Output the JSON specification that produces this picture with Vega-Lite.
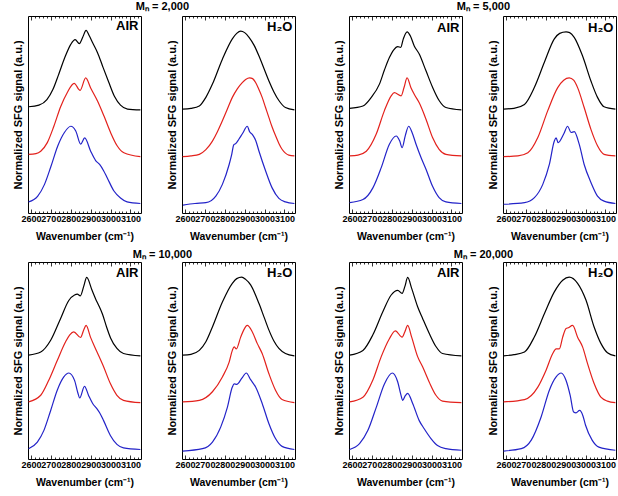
{
"$schema":"https://vega.github.io/schema/vega-lite/v6.json",
"padding":{"left":11,"top":1,"right":0,"bottom":0},
"background":"#ffffff",
"config":{
 "font":"Liberation Sans",
 "view":{"stroke":"#000000","strokeWidth":1},
 "axis":{"domain":false,"grid":false,"labelFont":"Liberation Sans","labelFontWeight":"bold","labelFontSize":9,"labelColor":"#000","labelPadding":5,"labelOverlap":false,"labelFlush":false,"labelBound":false,"tickColor":"#000","tickWidth":0.8,"titleFont":"Liberation Sans","titleFontSize":11,"titleFontWeight":"bold","titleColor":"#000"},
 "axisX":{"titlePadding":6,"titleFontSize":10.5},
 "axisY":{"titlePadding":5},
 "text":{"font":"Liberation Sans","fontWeight":"bold","fontSize":13,"color":"#000"},
 "title":{"font":"Liberation Sans","color":"#000","fontWeight":"bold","fontSize":11}
},
"datasets":{"d":[
{"p":1,"s":"k","x":2588,"y":1.23},{"p":1,"s":"k","x":2640,"y":1.25},{"p":1,"s":"k","x":2680,"y":1.32},{"p":1,"s":"k","x":2710,"y":1.45},{"p":1,"s":"k","x":2740,"y":1.65},{"p":1,"s":"k","x":2770,"y":1.86},{"p":1,"s":"k","x":2800,"y":2.03},{"p":1,"s":"k","x":2822,"y":2.09},{"p":1,"s":"k","x":2843,"y":2.04},{"p":1,"s":"k","x":2860,"y":2.12},{"p":1,"s":"k","x":2877,"y":2.21},{"p":1,"s":"k","x":2893,"y":2.14},{"p":1,"s":"k","x":2910,"y":2.05},{"p":1,"s":"k","x":2935,"y":1.92},{"p":1,"s":"k","x":2960,"y":1.75},{"p":1,"s":"k","x":2990,"y":1.55},{"p":1,"s":"k","x":3020,"y":1.36},{"p":1,"s":"k","x":3050,"y":1.25},{"p":1,"s":"k","x":3085,"y":1.20},{"p":1,"s":"k","x":3150,"y":1.19},
{"p":1,"s":"r","x":2588,"y":0.62},{"p":1,"s":"r","x":2625,"y":0.63},{"p":1,"s":"r","x":2649,"y":0.66},{"p":1,"s":"r","x":2682,"y":0.77},{"p":1,"s":"r","x":2715,"y":0.98},{"p":1,"s":"r","x":2749,"y":1.23},{"p":1,"s":"r","x":2782,"y":1.41},{"p":1,"s":"r","x":2817,"y":1.53},{"p":1,"s":"r","x":2847,"y":1.44},{"p":1,"s":"r","x":2875,"y":1.60},{"p":1,"s":"r","x":2900,"y":1.47},{"p":1,"s":"r","x":2935,"y":1.30},{"p":1,"s":"r","x":2967,"y":1.11},{"p":1,"s":"r","x":3000,"y":0.90},{"p":1,"s":"r","x":3033,"y":0.73},{"p":1,"s":"r","x":3067,"y":0.64},{"p":1,"s":"r","x":3150,"y":0.59},
{"p":1,"s":"b","x":2588,"y":0.01},{"p":1,"s":"b","x":2634,"y":0.085},{"p":1,"s":"b","x":2668,"y":0.235},{"p":1,"s":"b","x":2701,"y":0.47},{"p":1,"s":"b","x":2735,"y":0.73},{"p":1,"s":"b","x":2768,"y":0.90},{"p":1,"s":"b","x":2800,"y":0.98},{"p":1,"s":"b","x":2825,"y":0.92},{"p":1,"s":"b","x":2850,"y":0.75},{"p":1,"s":"b","x":2870,"y":0.83},{"p":1,"s":"b","x":2900,"y":0.66},{"p":1,"s":"b","x":2925,"y":0.54},{"p":1,"s":"b","x":2945,"y":0.49},{"p":1,"s":"b","x":2965,"y":0.41},{"p":1,"s":"b","x":2983,"y":0.32},{"p":1,"s":"b","x":3017,"y":0.15},{"p":1,"s":"b","x":3050,"y":0.06},{"p":1,"s":"b","x":3083,"y":0.01},{"p":1,"s":"b","x":3150,"y":-0.01},
{"p":2,"s":"k","x":2588,"y":1.20},{"p":2,"s":"k","x":2630,"y":1.21},{"p":2,"s":"k","x":2672,"y":1.24},{"p":2,"s":"k","x":2705,"y":1.35},{"p":2,"s":"k","x":2738,"y":1.52},{"p":2,"s":"k","x":2788,"y":1.84},{"p":2,"s":"k","x":2838,"y":2.10},{"p":2,"s":"k","x":2860,"y":2.17},{"p":2,"s":"k","x":2880,"y":2.20},{"p":2,"s":"k","x":2900,"y":2.18},{"p":2,"s":"k","x":2922,"y":2.12},{"p":2,"s":"k","x":2947,"y":2.02},{"p":2,"s":"k","x":2972,"y":1.88},{"p":2,"s":"k","x":2997,"y":1.72},{"p":2,"s":"k","x":3022,"y":1.56},{"p":2,"s":"k","x":3047,"y":1.42},{"p":2,"s":"k","x":3072,"y":1.31},{"p":2,"s":"k","x":3105,"y":1.22},{"p":2,"s":"k","x":3150,"y":1.19},
{"p":2,"s":"r","x":2588,"y":0.59},{"p":2,"s":"r","x":2630,"y":0.60},{"p":2,"s":"r","x":2672,"y":0.62},{"p":2,"s":"r","x":2705,"y":0.68},{"p":2,"s":"r","x":2738,"y":0.79},{"p":2,"s":"r","x":2763,"y":0.91},{"p":2,"s":"r","x":2788,"y":1.05},{"p":2,"s":"r","x":2813,"y":1.20},{"p":2,"s":"r","x":2838,"y":1.35},{"p":2,"s":"r","x":2863,"y":1.46},{"p":2,"s":"r","x":2888,"y":1.54},{"p":2,"s":"r","x":2905,"y":1.58},{"p":2,"s":"r","x":2925,"y":1.60},{"p":2,"s":"r","x":2940,"y":1.59},{"p":2,"s":"r","x":2955,"y":1.54},{"p":2,"s":"r","x":2970,"y":1.46},{"p":2,"s":"r","x":2988,"y":1.35},{"p":2,"s":"r","x":3005,"y":1.22},{"p":2,"s":"r","x":3022,"y":1.09},{"p":2,"s":"r","x":3038,"y":0.97},{"p":2,"s":"r","x":3055,"y":0.86},{"p":2,"s":"r","x":3072,"y":0.76},{"p":2,"s":"r","x":3088,"y":0.685},{"p":2,"s":"r","x":3105,"y":0.635},{"p":2,"s":"r","x":3122,"y":0.61},{"p":2,"s":"r","x":3150,"y":0.60},
{"p":2,"s":"b","x":2590,"y":-0.03},{"p":2,"s":"b","x":2650,"y":-0.01},{"p":2,"s":"b","x":2705,"y":0.0},{"p":2,"s":"b","x":2755,"y":0.085},{"p":2,"s":"b","x":2788,"y":0.235},{"p":2,"s":"b","x":2822,"y":0.49},{"p":2,"s":"b","x":2835,"y":0.62},{"p":2,"s":"b","x":2845,"y":0.74},{"p":2,"s":"b","x":2856,"y":0.76},{"p":2,"s":"b","x":2870,"y":0.81},{"p":2,"s":"b","x":2890,"y":0.89},{"p":2,"s":"b","x":2913,"y":0.98},{"p":2,"s":"b","x":2925,"y":0.91},{"p":2,"s":"b","x":2940,"y":0.87},{"p":2,"s":"b","x":2955,"y":0.80},{"p":2,"s":"b","x":2972,"y":0.66},{"p":2,"s":"b","x":3005,"y":0.41},{"p":2,"s":"b","x":3038,"y":0.19},{"p":2,"s":"b","x":3072,"y":0.055},{"p":2,"s":"b","x":3105,"y":0.01},{"p":2,"s":"b","x":3150,"y":-0.01},
{"p":3,"s":"k","x":2588,"y":1.21},{"p":3,"s":"k","x":2655,"y":1.24},{"p":3,"s":"k","x":2697,"y":1.35},{"p":3,"s":"k","x":2738,"y":1.52},{"p":3,"s":"k","x":2763,"y":1.70},{"p":3,"s":"k","x":2788,"y":1.86},{"p":3,"s":"k","x":2810,"y":1.96},{"p":3,"s":"k","x":2830,"y":2.00},{"p":3,"s":"k","x":2845,"y":1.99},{"p":3,"s":"k","x":2858,"y":2.10},{"p":3,"s":"k","x":2877,"y":2.19},{"p":3,"s":"k","x":2893,"y":2.14},{"p":3,"s":"k","x":2913,"y":2.01},{"p":3,"s":"k","x":2938,"y":1.905},{"p":3,"s":"k","x":2972,"y":1.69},{"p":3,"s":"k","x":3005,"y":1.48},{"p":3,"s":"k","x":3038,"y":1.31},{"p":3,"s":"k","x":3072,"y":1.22},{"p":3,"s":"k","x":3150,"y":1.19},
{"p":3,"s":"r","x":2588,"y":0.60},{"p":3,"s":"r","x":2630,"y":0.61},{"p":3,"s":"r","x":2672,"y":0.66},{"p":3,"s":"r","x":2722,"y":0.88},{"p":3,"s":"r","x":2763,"y":1.18},{"p":3,"s":"r","x":2797,"y":1.37},{"p":3,"s":"r","x":2813,"y":1.41},{"p":3,"s":"r","x":2847,"y":1.37},{"p":3,"s":"r","x":2862,"y":1.48},{"p":3,"s":"r","x":2877,"y":1.60},{"p":3,"s":"r","x":2897,"y":1.47},{"p":3,"s":"r","x":2915,"y":1.38},{"p":3,"s":"r","x":2938,"y":1.28},{"p":3,"s":"r","x":2972,"y":1.07},{"p":3,"s":"r","x":3005,"y":0.835},{"p":3,"s":"r","x":3038,"y":0.685},{"p":3,"s":"r","x":3072,"y":0.62},{"p":3,"s":"r","x":3150,"y":0.60},
{"p":3,"s":"b","x":2588,"y":0.0},{"p":3,"s":"b","x":2655,"y":0.04},{"p":3,"s":"b","x":2705,"y":0.19},{"p":3,"s":"b","x":2747,"y":0.45},{"p":3,"s":"b","x":2788,"y":0.75},{"p":3,"s":"b","x":2822,"y":0.855},{"p":3,"s":"b","x":2840,"y":0.79},{"p":3,"s":"b","x":2852,"y":0.705},{"p":3,"s":"b","x":2868,"y":0.86},{"p":3,"s":"b","x":2885,"y":0.98},{"p":3,"s":"b","x":2902,"y":0.90},{"p":3,"s":"b","x":2922,"y":0.75},{"p":3,"s":"b","x":2947,"y":0.58},{"p":3,"s":"b","x":2972,"y":0.43},{"p":3,"s":"b","x":3005,"y":0.21},{"p":3,"s":"b","x":3038,"y":0.065},{"p":3,"s":"b","x":3072,"y":0.01},{"p":3,"s":"b","x":3150,"y":-0.01},
{"p":4,"s":"k","x":2588,"y":1.20},{"p":4,"s":"k","x":2640,"y":1.21},{"p":4,"s":"k","x":2693,"y":1.26},{"p":4,"s":"k","x":2743,"y":1.48},{"p":4,"s":"k","x":2793,"y":1.80},{"p":4,"s":"k","x":2843,"y":2.10},{"p":4,"s":"k","x":2870,"y":2.17},{"p":4,"s":"k","x":2902,"y":2.19},{"p":4,"s":"k","x":2920,"y":2.18},{"p":4,"s":"k","x":2943,"y":2.12},{"p":4,"s":"k","x":2985,"y":1.88},{"p":4,"s":"k","x":3027,"y":1.56},{"p":4,"s":"k","x":3060,"y":1.35},{"p":4,"s":"k","x":3093,"y":1.23},{"p":4,"s":"k","x":3150,"y":1.20},
{"p":4,"s":"r","x":2588,"y":0.59},{"p":4,"s":"r","x":2660,"y":0.60},{"p":4,"s":"r","x":2710,"y":0.64},{"p":4,"s":"r","x":2760,"y":0.835},{"p":4,"s":"r","x":2810,"y":1.18},{"p":4,"s":"r","x":2860,"y":1.475},{"p":4,"s":"r","x":2890,"y":1.57},{"p":4,"s":"r","x":2918,"y":1.60},{"p":4,"s":"r","x":2940,"y":1.57},{"p":4,"s":"r","x":2960,"y":1.475},{"p":4,"s":"r","x":2993,"y":1.22},{"p":4,"s":"r","x":3027,"y":0.94},{"p":4,"s":"r","x":3060,"y":0.73},{"p":4,"s":"r","x":3093,"y":0.62},{"p":4,"s":"r","x":3150,"y":0.60},
{"p":4,"s":"b","x":2588,"y":-0.02},{"p":4,"s":"b","x":2693,"y":0.0},{"p":4,"s":"b","x":2743,"y":0.065},{"p":4,"s":"b","x":2785,"y":0.235},{"p":4,"s":"b","x":2818,"y":0.49},{"p":4,"s":"b","x":2843,"y":0.79},{"p":4,"s":"b","x":2852,"y":0.83},{"p":4,"s":"b","x":2862,"y":0.77},{"p":4,"s":"b","x":2890,"y":0.88},{"p":4,"s":"b","x":2910,"y":0.98},{"p":4,"s":"b","x":2927,"y":0.90},{"p":4,"s":"b","x":2943,"y":0.91},{"p":4,"s":"b","x":2968,"y":0.75},{"p":4,"s":"b","x":2993,"y":0.49},{"p":4,"s":"b","x":3027,"y":0.26},{"p":4,"s":"b","x":3060,"y":0.085},{"p":4,"s":"b","x":3093,"y":0.02},{"p":4,"s":"b","x":3150,"y":-0.01},
{"p":5,"s":"k","x":2588,"y":1.20},{"p":5,"s":"k","x":2649,"y":1.24},{"p":5,"s":"k","x":2699,"y":1.39},{"p":5,"s":"k","x":2749,"y":1.67},{"p":5,"s":"k","x":2790,"y":1.90},{"p":5,"s":"k","x":2819,"y":1.97},{"p":5,"s":"k","x":2833,"y":1.98},{"p":5,"s":"k","x":2848,"y":1.96},{"p":5,"s":"k","x":2865,"y":2.08},{"p":5,"s":"k","x":2880,"y":2.195},{"p":5,"s":"k","x":2907,"y":2.03},{"p":5,"s":"k","x":2925,"y":1.92},{"p":5,"s":"k","x":2940,"y":1.84},{"p":5,"s":"k","x":2960,"y":1.72},{"p":5,"s":"k","x":2980,"y":1.56},{"p":5,"s":"k","x":3000,"y":1.42},{"p":5,"s":"k","x":3032,"y":1.285},{"p":5,"s":"k","x":3065,"y":1.22},{"p":5,"s":"k","x":3150,"y":1.19},
{"p":5,"s":"r","x":2588,"y":0.60},{"p":5,"s":"r","x":2649,"y":0.685},{"p":5,"s":"r","x":2690,"y":0.88},{"p":5,"s":"r","x":2732,"y":1.13},{"p":5,"s":"r","x":2774,"y":1.37},{"p":5,"s":"r","x":2795,"y":1.46},{"p":5,"s":"r","x":2815,"y":1.497},{"p":5,"s":"r","x":2849,"y":1.425},{"p":5,"s":"r","x":2865,"y":1.52},{"p":5,"s":"r","x":2877,"y":1.58},{"p":5,"s":"r","x":2899,"y":1.43},{"p":5,"s":"r","x":2932,"y":1.24},{"p":5,"s":"r","x":2965,"y":1.05},{"p":5,"s":"r","x":2999,"y":0.835},{"p":5,"s":"r","x":3032,"y":0.685},{"p":5,"s":"r","x":3065,"y":0.62},{"p":5,"s":"r","x":3150,"y":0.59},
{"p":5,"s":"b","x":2588,"y":0.0},{"p":5,"s":"b","x":2632,"y":0.085},{"p":5,"s":"b","x":2665,"y":0.235},{"p":5,"s":"b","x":2699,"y":0.49},{"p":5,"s":"b","x":2732,"y":0.75},{"p":5,"s":"b","x":2765,"y":0.92},{"p":5,"s":"b","x":2790,"y":0.97},{"p":5,"s":"b","x":2819,"y":0.876},{"p":5,"s":"b","x":2835,"y":0.72},{"p":5,"s":"b","x":2845,"y":0.65},{"p":5,"s":"b","x":2869,"y":0.80},{"p":5,"s":"b","x":2890,"y":0.68},{"p":5,"s":"b","x":2910,"y":0.58},{"p":5,"s":"b","x":2932,"y":0.51},{"p":5,"s":"b","x":2945,"y":0.46},{"p":5,"s":"b","x":2965,"y":0.36},{"p":5,"s":"b","x":2999,"y":0.17},{"p":5,"s":"b","x":3032,"y":0.055},{"p":5,"s":"b","x":3065,"y":0.01},{"p":5,"s":"b","x":3150,"y":-0.01},
{"p":6,"s":"k","x":2588,"y":1.20},{"p":6,"s":"k","x":2630,"y":1.21},{"p":6,"s":"k","x":2672,"y":1.26},{"p":6,"s":"k","x":2705,"y":1.37},{"p":6,"s":"k","x":2738,"y":1.56},{"p":6,"s":"k","x":2788,"y":1.88},{"p":6,"s":"k","x":2838,"y":2.12},{"p":6,"s":"k","x":2860,"y":2.18},{"p":6,"s":"k","x":2885,"y":2.20},{"p":6,"s":"k","x":2905,"y":2.17},{"p":6,"s":"k","x":2930,"y":2.10},{"p":6,"s":"k","x":2972,"y":1.86},{"p":6,"s":"k","x":2997,"y":1.69},{"p":6,"s":"k","x":3022,"y":1.52},{"p":6,"s":"k","x":3047,"y":1.38},{"p":6,"s":"k","x":3072,"y":1.285},{"p":6,"s":"k","x":3105,"y":1.22},{"p":6,"s":"k","x":3150,"y":1.19},
{"p":6,"s":"r","x":2588,"y":0.60},{"p":6,"s":"r","x":2672,"y":0.62},{"p":6,"s":"r","x":2738,"y":0.73},{"p":6,"s":"r","x":2788,"y":0.92},{"p":6,"s":"r","x":2822,"y":1.11},{"p":6,"s":"r","x":2838,"y":1.26},{"p":6,"s":"r","x":2847,"y":1.305},{"p":6,"s":"r","x":2858,"y":1.28},{"p":6,"s":"r","x":2880,"y":1.43},{"p":6,"s":"r","x":2895,"y":1.52},{"p":6,"s":"r","x":2913,"y":1.58},{"p":6,"s":"r","x":2938,"y":1.50},{"p":6,"s":"r","x":2963,"y":1.35},{"p":6,"s":"r","x":2988,"y":1.22},{"p":6,"s":"r","x":3022,"y":0.96},{"p":6,"s":"r","x":3055,"y":0.75},{"p":6,"s":"r","x":3088,"y":0.63},{"p":6,"s":"r","x":3150,"y":0.59},
{"p":6,"s":"b","x":2588,"y":-0.03},{"p":6,"s":"b","x":2688,"y":0.0},{"p":6,"s":"b","x":2738,"y":0.085},{"p":6,"s":"b","x":2780,"y":0.28},{"p":6,"s":"b","x":2813,"y":0.53},{"p":6,"s":"b","x":2838,"y":0.79},{"p":6,"s":"b","x":2847,"y":0.83},{"p":6,"s":"b","x":2860,"y":0.825},{"p":6,"s":"b","x":2885,"y":0.90},{"p":6,"s":"b","x":2908,"y":0.97},{"p":6,"s":"b","x":2930,"y":0.885},{"p":6,"s":"b","x":2955,"y":0.79},{"p":6,"s":"b","x":2988,"y":0.58},{"p":6,"s":"b","x":3022,"y":0.32},{"p":6,"s":"b","x":3055,"y":0.13},{"p":6,"s":"b","x":3088,"y":0.03},{"p":6,"s":"b","x":3150,"y":-0.01},
{"p":7,"s":"k","x":2588,"y":1.20},{"p":7,"s":"k","x":2655,"y":1.26},{"p":7,"s":"k","x":2705,"y":1.46},{"p":7,"s":"k","x":2755,"y":1.755},{"p":7,"s":"k","x":2797,"y":1.97},{"p":7,"s":"k","x":2830,"y":2.03},{"p":7,"s":"k","x":2852,"y":1.99},{"p":7,"s":"k","x":2866,"y":2.08},{"p":7,"s":"k","x":2880,"y":2.195},{"p":7,"s":"k","x":2900,"y":2.055},{"p":7,"s":"k","x":2930,"y":1.82},{"p":7,"s":"k","x":2955,"y":1.67},{"p":7,"s":"k","x":2988,"y":1.48},{"p":7,"s":"k","x":3022,"y":1.31},{"p":7,"s":"k","x":3055,"y":1.22},{"p":7,"s":"k","x":3150,"y":1.19},
{"p":7,"s":"r","x":2588,"y":0.60},{"p":7,"s":"r","x":2655,"y":0.66},{"p":7,"s":"r","x":2705,"y":0.88},{"p":7,"s":"r","x":2747,"y":1.18},{"p":7,"s":"r","x":2788,"y":1.41},{"p":7,"s":"r","x":2818,"y":1.51},{"p":7,"s":"r","x":2852,"y":1.43},{"p":7,"s":"r","x":2866,"y":1.50},{"p":7,"s":"r","x":2880,"y":1.58},{"p":7,"s":"r","x":2900,"y":1.43},{"p":7,"s":"r","x":2930,"y":1.18},{"p":7,"s":"r","x":2955,"y":1.05},{"p":7,"s":"r","x":2988,"y":0.856},{"p":7,"s":"r","x":3022,"y":0.685},{"p":7,"s":"r","x":3055,"y":0.61},{"p":7,"s":"r","x":3150,"y":0.59},
{"p":7,"s":"b","x":2588,"y":-0.01},{"p":7,"s":"b","x":2638,"y":0.065},{"p":7,"s":"b","x":2680,"y":0.235},{"p":7,"s":"b","x":2722,"y":0.53},{"p":7,"s":"b","x":2763,"y":0.83},{"p":7,"s":"b","x":2802,"y":0.97},{"p":7,"s":"b","x":2830,"y":0.855},{"p":7,"s":"b","x":2845,"y":0.70},{"p":7,"s":"b","x":2855,"y":0.62},{"p":7,"s":"b","x":2868,"y":0.68},{"p":7,"s":"b","x":2880,"y":0.71},{"p":7,"s":"b","x":2905,"y":0.58},{"p":7,"s":"b","x":2938,"y":0.36},{"p":7,"s":"b","x":2963,"y":0.256},{"p":7,"s":"b","x":2997,"y":0.13},{"p":7,"s":"b","x":3030,"y":0.04},{"p":7,"s":"b","x":3072,"y":0.0},{"p":7,"s":"b","x":3150,"y":-0.02},
{"p":8,"s":"k","x":2588,"y":1.19},{"p":8,"s":"k","x":2640,"y":1.205},{"p":8,"s":"k","x":2693,"y":1.24},{"p":8,"s":"k","x":2743,"y":1.435},{"p":8,"s":"k","x":2793,"y":1.73},{"p":8,"s":"k","x":2843,"y":2.01},{"p":8,"s":"k","x":2885,"y":2.16},{"p":8,"s":"k","x":2918,"y":2.20},{"p":8,"s":"k","x":2960,"y":2.12},{"p":8,"s":"k","x":3002,"y":1.905},{"p":8,"s":"k","x":3043,"y":1.56},{"p":8,"s":"k","x":3077,"y":1.35},{"p":8,"s":"k","x":3110,"y":1.23},{"p":8,"s":"k","x":3150,"y":1.19},
{"p":8,"s":"r","x":2588,"y":0.60},{"p":8,"s":"r","x":2693,"y":0.63},{"p":8,"s":"r","x":2760,"y":0.79},{"p":8,"s":"r","x":2802,"y":1.01},{"p":8,"s":"r","x":2835,"y":1.22},{"p":8,"s":"r","x":2852,"y":1.28},{"p":8,"s":"r","x":2868,"y":1.28},{"p":8,"s":"r","x":2885,"y":1.43},{"p":8,"s":"r","x":2902,"y":1.54},{"p":8,"s":"r","x":2913,"y":1.55},{"p":8,"s":"r","x":2935,"y":1.58},{"p":8,"s":"r","x":2960,"y":1.43},{"p":8,"s":"r","x":2985,"y":1.305},{"p":8,"s":"r","x":3010,"y":1.09},{"p":8,"s":"r","x":3043,"y":0.835},{"p":8,"s":"r","x":3077,"y":0.66},{"p":8,"s":"r","x":3110,"y":0.61},{"p":8,"s":"r","x":3150,"y":0.59},
{"p":8,"s":"b","x":2588,"y":-0.03},{"p":8,"s":"b","x":2677,"y":0.0},{"p":8,"s":"b","x":2727,"y":0.11},{"p":8,"s":"b","x":2777,"y":0.41},{"p":8,"s":"b","x":2818,"y":0.75},{"p":8,"s":"b","x":2852,"y":0.92},{"p":8,"s":"b","x":2877,"y":0.97},{"p":8,"s":"b","x":2902,"y":0.875},{"p":8,"s":"b","x":2923,"y":0.68},{"p":8,"s":"b","x":2940,"y":0.47},{"p":8,"s":"b","x":2952,"y":0.46},{"p":8,"s":"b","x":2970,"y":0.49},{"p":8,"s":"b","x":2987,"y":0.42},{"p":8,"s":"b","x":3000,"y":0.30},{"p":8,"s":"b","x":3033,"y":0.11},{"p":8,"s":"b","x":3067,"y":0.02},{"p":8,"s":"b","x":3150,"y":-0.02}
]},
"data":{"name":"d"},
"vconcat":[
 {"hconcat":[
  {"title":{"text":"Mₙ = 2,000","anchor":"middle","offset":3,"dx":8},"spacing":21,"hconcat":[
   {"width":113,"height":197,"transform":[{"filter":"datum.p == 1"}],"layer":[
    {"mark":{"type":"line","strokeWidth":1.2,"interpolate":"monotone"},"encoding":{"x":{"field":"x","type":"quantitative","scale":{"domain":[2585,3153],"nice":false,"zero":false},"axis":{"orient":"bottom","values":[2600,2620,2640,2660,2680,2700,2720,2740,2760,2780,2800,2820,2840,2860,2880,2900,2920,2940,2960,2980,3000,3020,3040,3060,3080,3100,3120,3140],"labelExpr":"datum.value % 100 === 0 ? datum.value : ''","tickSize":{"condition":{"test":"datum.value % 100 === 0","value":-4},"value":-2},"title":"Wavenumber (cm⁻¹)"}},"y":{"field":"y","type":"quantitative","scale":{"domain":[-0.132,2.393],"nice":false,"zero":false},"axis":{"title":"Normalized SFG signal (a.u.)","ticks":false,"labels":false}},"color":{"field":"s","type":"nominal","scale":{"domain":["k","r","b"],"range":["#000000","#e3211c","#2323c8"]},"legend":null}}},
    {"mark":{"type":"text","align":"right","baseline":"alphabetic","dx":-2},"encoding":{"x":{"aggregate":"max","field":"x","type":"quantitative","scale":{"domain":[2585,3153],"nice":false,"zero":false},"axis":{"orient":"top","values":[2600,2620,2640,2660,2680,2700,2720,2740,2760,2780,2800,2820,2840,2860,2880,2900,2920,2940,2960,2980,3000,3020,3040,3060,3080,3100,3120,3140],"labels":false,"tickSize":{"condition":{"test":"datum.value % 100 === 0","value":-4},"value":-2},"title":null}},"y":{"aggregate":"max","field":"y","type":"quantitative","scale":{"domain":[-0.132,2.393],"nice":false,"zero":false},"axis":{"title":"Normalized SFG signal (a.u.)","ticks":false,"labels":false}},"text":{"value":"AIR"}}}
   ],"resolve":{"axis":{"x":"independent"}}},
   {"width":113,"height":197,"transform":[{"filter":"datum.p == 2"}],"layer":[
    {"mark":{"type":"line","strokeWidth":1.2,"interpolate":"monotone"},"encoding":{"x":{"field":"x","type":"quantitative","scale":{"domain":[2585,3153],"nice":false,"zero":false},"axis":{"orient":"bottom","values":[2600,2620,2640,2660,2680,2700,2720,2740,2760,2780,2800,2820,2840,2860,2880,2900,2920,2940,2960,2980,3000,3020,3040,3060,3080,3100,3120,3140],"labelExpr":"datum.value % 100 === 0 ? datum.value : ''","tickSize":{"condition":{"test":"datum.value % 100 === 0","value":-4},"value":-2},"title":"Wavenumber (cm⁻¹)"}},"y":{"field":"y","type":"quantitative","scale":{"domain":[-0.132,2.393],"nice":false,"zero":false},"axis":{"title":"Normalized SFG signal (a.u.)","ticks":false,"labels":false}},"color":{"field":"s","type":"nominal","scale":{"domain":["k","r","b"],"range":["#000000","#e3211c","#2323c8"]},"legend":null}}},
    {"mark":{"type":"text","align":"right","baseline":"alphabetic","dx":-2},"encoding":{"x":{"aggregate":"max","field":"x","type":"quantitative","scale":{"domain":[2585,3153],"nice":false,"zero":false},"axis":{"orient":"top","values":[2600,2620,2640,2660,2680,2700,2720,2740,2760,2780,2800,2820,2840,2860,2880,2900,2920,2940,2960,2980,3000,3020,3040,3060,3080,3100,3120,3140],"labels":false,"tickSize":{"condition":{"test":"datum.value % 100 === 0","value":-4},"value":-2},"title":null}},"y":{"aggregate":"max","field":"y","type":"quantitative","scale":{"domain":[-0.132,2.393],"nice":false,"zero":false},"axis":{"title":"Normalized SFG signal (a.u.)","ticks":false,"labels":false}},"text":{"value":"H₂O"}}}
   ],"resolve":{"axis":{"x":"independent"}}}
  ]},
  {"title":{"text":"Mₙ = 5,000","anchor":"middle","offset":3,"dx":8},"spacing":21,"hconcat":[
   {"width":113,"height":197,"transform":[{"filter":"datum.p == 3"}],"layer":[
    {"mark":{"type":"line","strokeWidth":1.2,"interpolate":"monotone"},"encoding":{"x":{"field":"x","type":"quantitative","scale":{"domain":[2585,3153],"nice":false,"zero":false},"axis":{"orient":"bottom","values":[2600,2620,2640,2660,2680,2700,2720,2740,2760,2780,2800,2820,2840,2860,2880,2900,2920,2940,2960,2980,3000,3020,3040,3060,3080,3100,3120,3140],"labelExpr":"datum.value % 100 === 0 ? datum.value : ''","tickSize":{"condition":{"test":"datum.value % 100 === 0","value":-4},"value":-2},"title":"Wavenumber (cm⁻¹)"}},"y":{"field":"y","type":"quantitative","scale":{"domain":[-0.132,2.393],"nice":false,"zero":false},"axis":{"title":"Normalized SFG signal (a.u.)","ticks":false,"labels":false}},"color":{"field":"s","type":"nominal","scale":{"domain":["k","r","b"],"range":["#000000","#e3211c","#2323c8"]},"legend":null}}},
    {"mark":{"type":"text","align":"right","baseline":"alphabetic","dx":-2},"encoding":{"x":{"aggregate":"max","field":"x","type":"quantitative","scale":{"domain":[2585,3153],"nice":false,"zero":false},"axis":{"orient":"top","values":[2600,2620,2640,2660,2680,2700,2720,2740,2760,2780,2800,2820,2840,2860,2880,2900,2920,2940,2960,2980,3000,3020,3040,3060,3080,3100,3120,3140],"labels":false,"tickSize":{"condition":{"test":"datum.value % 100 === 0","value":-4},"value":-2},"title":null}},"y":{"aggregate":"max","field":"y","type":"quantitative","scale":{"domain":[-0.132,2.393],"nice":false,"zero":false},"axis":{"title":"Normalized SFG signal (a.u.)","ticks":false,"labels":false}},"text":{"value":"AIR"}}}
   ],"resolve":{"axis":{"x":"independent"}}},
   {"width":113,"height":197,"transform":[{"filter":"datum.p == 4"}],"layer":[
    {"mark":{"type":"line","strokeWidth":1.2,"interpolate":"monotone"},"encoding":{"x":{"field":"x","type":"quantitative","scale":{"domain":[2585,3153],"nice":false,"zero":false},"axis":{"orient":"bottom","values":[2600,2620,2640,2660,2680,2700,2720,2740,2760,2780,2800,2820,2840,2860,2880,2900,2920,2940,2960,2980,3000,3020,3040,3060,3080,3100,3120,3140],"labelExpr":"datum.value % 100 === 0 ? datum.value : ''","tickSize":{"condition":{"test":"datum.value % 100 === 0","value":-4},"value":-2},"title":"Wavenumber (cm⁻¹)"}},"y":{"field":"y","type":"quantitative","scale":{"domain":[-0.132,2.393],"nice":false,"zero":false},"axis":{"title":"Normalized SFG signal (a.u.)","ticks":false,"labels":false}},"color":{"field":"s","type":"nominal","scale":{"domain":["k","r","b"],"range":["#000000","#e3211c","#2323c8"]},"legend":null}}},
    {"mark":{"type":"text","align":"right","baseline":"alphabetic","dx":-2},"encoding":{"x":{"aggregate":"max","field":"x","type":"quantitative","scale":{"domain":[2585,3153],"nice":false,"zero":false},"axis":{"orient":"top","values":[2600,2620,2640,2660,2680,2700,2720,2740,2760,2780,2800,2820,2840,2860,2880,2900,2920,2940,2960,2980,3000,3020,3040,3060,3080,3100,3120,3140],"labels":false,"tickSize":{"condition":{"test":"datum.value % 100 === 0","value":-4},"value":-2},"title":null}},"y":{"aggregate":"max","field":"y","type":"quantitative","scale":{"domain":[-0.132,2.393],"nice":false,"zero":false},"axis":{"title":"Normalized SFG signal (a.u.)","ticks":false,"labels":false}},"text":{"value":"H₂O"}}}
   ],"resolve":{"axis":{"x":"independent"}}}
  ]}
 ],"spacing":34},
 {"hconcat":[
  {"title":{"text":"Mₙ = 10,000","anchor":"middle","offset":1,"dx":8},"spacing":21,"hconcat":[
   {"width":113,"height":197,"transform":[{"filter":"datum.p == 5"}],"layer":[
    {"mark":{"type":"line","strokeWidth":1.2,"interpolate":"monotone"},"encoding":{"x":{"field":"x","type":"quantitative","scale":{"domain":[2585,3153],"nice":false,"zero":false},"axis":{"orient":"bottom","values":[2600,2620,2640,2660,2680,2700,2720,2740,2760,2780,2800,2820,2840,2860,2880,2900,2920,2940,2960,2980,3000,3020,3040,3060,3080,3100,3120,3140],"labelExpr":"datum.value % 100 === 0 ? datum.value : ''","tickSize":{"condition":{"test":"datum.value % 100 === 0","value":-4},"value":-2},"title":"Wavenumber (cm⁻¹)"}},"y":{"field":"y","type":"quantitative","scale":{"domain":[-0.132,2.393],"nice":false,"zero":false},"axis":{"title":"Normalized SFG signal (a.u.)","ticks":false,"labels":false}},"color":{"field":"s","type":"nominal","scale":{"domain":["k","r","b"],"range":["#000000","#e3211c","#2323c8"]},"legend":null}}},
    {"mark":{"type":"text","align":"right","baseline":"alphabetic","dx":-2},"encoding":{"x":{"aggregate":"max","field":"x","type":"quantitative","scale":{"domain":[2585,3153],"nice":false,"zero":false},"axis":{"orient":"top","values":[2600,2620,2640,2660,2680,2700,2720,2740,2760,2780,2800,2820,2840,2860,2880,2900,2920,2940,2960,2980,3000,3020,3040,3060,3080,3100,3120,3140],"labels":false,"tickSize":{"condition":{"test":"datum.value % 100 === 0","value":-4},"value":-2},"title":null}},"y":{"aggregate":"max","field":"y","type":"quantitative","scale":{"domain":[-0.132,2.393],"nice":false,"zero":false},"axis":{"title":"Normalized SFG signal (a.u.)","ticks":false,"labels":false}},"text":{"value":"AIR"}}}
   ],"resolve":{"axis":{"x":"independent"}}},
   {"width":113,"height":197,"transform":[{"filter":"datum.p == 6"}],"layer":[
    {"mark":{"type":"line","strokeWidth":1.2,"interpolate":"monotone"},"encoding":{"x":{"field":"x","type":"quantitative","scale":{"domain":[2585,3153],"nice":false,"zero":false},"axis":{"orient":"bottom","values":[2600,2620,2640,2660,2680,2700,2720,2740,2760,2780,2800,2820,2840,2860,2880,2900,2920,2940,2960,2980,3000,3020,3040,3060,3080,3100,3120,3140],"labelExpr":"datum.value % 100 === 0 ? datum.value : ''","tickSize":{"condition":{"test":"datum.value % 100 === 0","value":-4},"value":-2},"title":"Wavenumber (cm⁻¹)"}},"y":{"field":"y","type":"quantitative","scale":{"domain":[-0.132,2.393],"nice":false,"zero":false},"axis":{"title":"Normalized SFG signal (a.u.)","ticks":false,"labels":false}},"color":{"field":"s","type":"nominal","scale":{"domain":["k","r","b"],"range":["#000000","#e3211c","#2323c8"]},"legend":null}}},
    {"mark":{"type":"text","align":"right","baseline":"alphabetic","dx":-2},"encoding":{"x":{"aggregate":"max","field":"x","type":"quantitative","scale":{"domain":[2585,3153],"nice":false,"zero":false},"axis":{"orient":"top","values":[2600,2620,2640,2660,2680,2700,2720,2740,2760,2780,2800,2820,2840,2860,2880,2900,2920,2940,2960,2980,3000,3020,3040,3060,3080,3100,3120,3140],"labels":false,"tickSize":{"condition":{"test":"datum.value % 100 === 0","value":-4},"value":-2},"title":null}},"y":{"aggregate":"max","field":"y","type":"quantitative","scale":{"domain":[-0.132,2.393],"nice":false,"zero":false},"axis":{"title":"Normalized SFG signal (a.u.)","ticks":false,"labels":false}},"text":{"value":"H₂O"}}}
   ],"resolve":{"axis":{"x":"independent"}}}
  ]},
  {"title":{"text":"Mₙ = 20,000","anchor":"middle","offset":1,"dx":8},"spacing":21,"hconcat":[
   {"width":113,"height":197,"transform":[{"filter":"datum.p == 7"}],"layer":[
    {"mark":{"type":"line","strokeWidth":1.2,"interpolate":"monotone"},"encoding":{"x":{"field":"x","type":"quantitative","scale":{"domain":[2585,3153],"nice":false,"zero":false},"axis":{"orient":"bottom","values":[2600,2620,2640,2660,2680,2700,2720,2740,2760,2780,2800,2820,2840,2860,2880,2900,2920,2940,2960,2980,3000,3020,3040,3060,3080,3100,3120,3140],"labelExpr":"datum.value % 100 === 0 ? datum.value : ''","tickSize":{"condition":{"test":"datum.value % 100 === 0","value":-4},"value":-2},"title":"Wavenumber (cm⁻¹)"}},"y":{"field":"y","type":"quantitative","scale":{"domain":[-0.132,2.393],"nice":false,"zero":false},"axis":{"title":"Normalized SFG signal (a.u.)","ticks":false,"labels":false}},"color":{"field":"s","type":"nominal","scale":{"domain":["k","r","b"],"range":["#000000","#e3211c","#2323c8"]},"legend":null}}},
    {"mark":{"type":"text","align":"right","baseline":"alphabetic","dx":-2},"encoding":{"x":{"aggregate":"max","field":"x","type":"quantitative","scale":{"domain":[2585,3153],"nice":false,"zero":false},"axis":{"orient":"top","values":[2600,2620,2640,2660,2680,2700,2720,2740,2760,2780,2800,2820,2840,2860,2880,2900,2920,2940,2960,2980,3000,3020,3040,3060,3080,3100,3120,3140],"labels":false,"tickSize":{"condition":{"test":"datum.value % 100 === 0","value":-4},"value":-2},"title":null}},"y":{"aggregate":"max","field":"y","type":"quantitative","scale":{"domain":[-0.132,2.393],"nice":false,"zero":false},"axis":{"title":"Normalized SFG signal (a.u.)","ticks":false,"labels":false}},"text":{"value":"AIR"}}}
   ],"resolve":{"axis":{"x":"independent"}}},
   {"width":113,"height":197,"transform":[{"filter":"datum.p == 8"}],"layer":[
    {"mark":{"type":"line","strokeWidth":1.2,"interpolate":"monotone"},"encoding":{"x":{"field":"x","type":"quantitative","scale":{"domain":[2585,3153],"nice":false,"zero":false},"axis":{"orient":"bottom","values":[2600,2620,2640,2660,2680,2700,2720,2740,2760,2780,2800,2820,2840,2860,2880,2900,2920,2940,2960,2980,3000,3020,3040,3060,3080,3100,3120,3140],"labelExpr":"datum.value % 100 === 0 ? datum.value : ''","tickSize":{"condition":{"test":"datum.value % 100 === 0","value":-4},"value":-2},"title":"Wavenumber (cm⁻¹)"}},"y":{"field":"y","type":"quantitative","scale":{"domain":[-0.132,2.393],"nice":false,"zero":false},"axis":{"title":"Normalized SFG signal (a.u.)","ticks":false,"labels":false}},"color":{"field":"s","type":"nominal","scale":{"domain":["k","r","b"],"range":["#000000","#e3211c","#2323c8"]},"legend":null}}},
    {"mark":{"type":"text","align":"right","baseline":"alphabetic","dx":-2},"encoding":{"x":{"aggregate":"max","field":"x","type":"quantitative","scale":{"domain":[2585,3153],"nice":false,"zero":false},"axis":{"orient":"top","values":[2600,2620,2640,2660,2680,2700,2720,2740,2760,2780,2800,2820,2840,2860,2880,2900,2920,2940,2960,2980,3000,3020,3040,3060,3080,3100,3120,3140],"labels":false,"tickSize":{"condition":{"test":"datum.value % 100 === 0","value":-4},"value":-2},"title":null}},"y":{"aggregate":"max","field":"y","type":"quantitative","scale":{"domain":[-0.132,2.393],"nice":false,"zero":false},"axis":{"title":"Normalized SFG signal (a.u.)","ticks":false,"labels":false}},"text":{"value":"H₂O"}}}
   ],"resolve":{"axis":{"x":"independent"}}}
  ]}
 ],"spacing":34}
],
"spacing":7
}
